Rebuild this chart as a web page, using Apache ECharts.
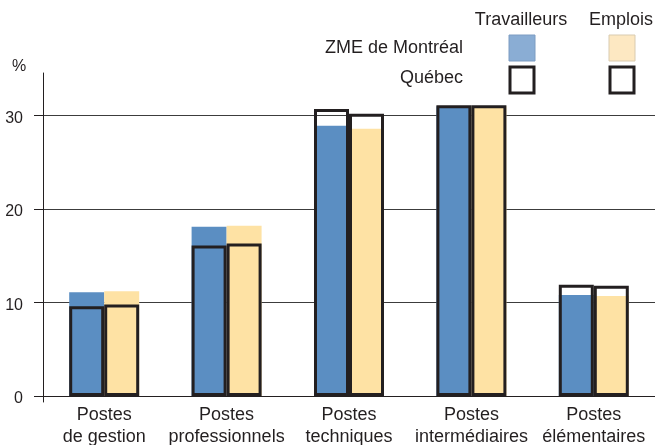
<!DOCTYPE html>
<html>
<head>
<meta charset="utf-8">
<script src="https://cdn.jsdelivr.net/npm/echarts@6/dist/echarts.min.js"></script>
<style>
  html, body { margin: 0; padding: 0; background: #fff; }
  #chart { width: 655px; height: 445px; }
</style>
</head>
<body>
<div id="chart"></div>
<script>
// catégories de postes
const categories = [
  'Postes\nde gestion',
  'Postes\nprofessionnels',
  'Postes\ntechniques',
  'Postes\nintermédiaires',
  'Postes\nélémentaires'
]
// ZME de Montréal (barres pleines)
const mtlTravailleurs = [11.1, 18.1, 28.9, 31.0, 10.8]
const mtlEmplois = [11.2, 18.2, 28.6, 31.0, 10.7]
// Québec (contours)
const qcTravailleurs = [9.6, 16.1, 30.7, 31.1, 11.9]
const qcEmplois = [9.8, 16.3, 30.2, 31.1, 11.8]
const yTicks = [0, 10, 20, 30]

const ink = '#231f20'
const blue = '#5b8ec2'
const tan = '#fee2a4'
const font = '"Liberation Sans", Arial, sans-serif'

const chart = echarts.init(document.getElementById('chart'))

const filled = (name, data, color) => ({
  name,
  type: 'bar',
  xAxisIndex: 0,
  data,
  barWidth: 35,
  barGap: '0%',
  z: 2,
  itemStyle: { color },
  emphasis: { disabled: true }
})

const outline = (name, data) => ({
  name,
  type: 'bar',
  xAxisIndex: 1,
  data,
  barWidth: 35,
  barGap: '0%',
  z: 4,
  itemStyle: { color: 'transparent', borderColor: ink, borderWidth: 3 },
  emphasis: { disabled: true }
})

chart.setOption({
  animation: false,
  textStyle: { fontFamily: font },
  grid: { left: 43, right: 0, top: 73, bottom: 43, containLabel: false, outerBoundsMode: 'none' },
  xAxis: [
    {
      type: 'category',
      data: categories,
      axisLine: { onZero: true, lineStyle: { color: ink, width: 1 } },
      axisTick: { show: false },
      axisLabel: { fontSize: 18, lineHeight: 22, color: ink, margin: 2, interval: 0 }
    },
    {
      type: 'category',
      data: categories,
      show: false
    }
  ],
  yAxis: {
    type: 'value',
    min: -0.64,
    max: 34.55,
    axisLine: { show: true, lineStyle: { color: ink, width: 1 } },
    axisTick: { show: true, length: 9, customValues: yTicks, lineStyle: { color: ink } },
    axisLabel: { customValues: yTicks, fontSize: 16, color: ink, margin: 20, verticalAlign: 'top', lineHeight: 6 },
    splitLine: { show: true, lineStyle: { color: '#3c3c3c', width: 1 } }
  },
  series: [
    filled('ZME Travailleurs', mtlTravailleurs, blue),
    filled('ZME Emplois', mtlEmplois, tan),
    outline('Québec Travailleurs', qcTravailleurs),
    outline('Québec Emplois', qcEmplois)
  ],
  graphic: [
    { type: 'text', left: 12, top: 59, style: { text: '%', fontSize: 16, fill: ink, fontFamily: font } },
    { type: 'text', x: 521, y: 20, style: { text: 'Travailleurs', fontSize: 18, fill: ink, fontFamily: font, align: 'center', verticalAlign: 'middle' } },
    { type: 'text', x: 621, y: 20, style: { text: 'Emplois', fontSize: 18, fill: ink, fontFamily: font, align: 'center', verticalAlign: 'middle' } },
    { type: 'text', x: 463, y: 48, style: { text: 'ZME de Montréal', fontSize: 18, fill: ink, fontFamily: font, align: 'right', verticalAlign: 'middle' } },
    { type: 'text', x: 463, y: 78, style: { text: 'Québec', fontSize: 18, fill: ink, fontFamily: font, align: 'right', verticalAlign: 'middle' } },
    { type: 'rect', shape: { x: 509, y: 35, width: 26, height: 26 }, style: { fill: '#8aadd4', stroke: '#7c9cc2', lineWidth: 1 } },
    { type: 'rect', shape: { x: 609, y: 35, width: 26, height: 26 }, style: { fill: '#fde8c2', stroke: '#d9cbb0', lineWidth: 1 } },
    { type: 'rect', shape: { x: 510, y: 67, width: 24, height: 26 }, style: { fill: '#fff', stroke: ink, lineWidth: 3 } },
    { type: 'rect', shape: { x: 610, y: 67, width: 24, height: 26 }, style: { fill: '#fff', stroke: ink, lineWidth: 3 } }
  ]
})
</script>
</body>
</html>
